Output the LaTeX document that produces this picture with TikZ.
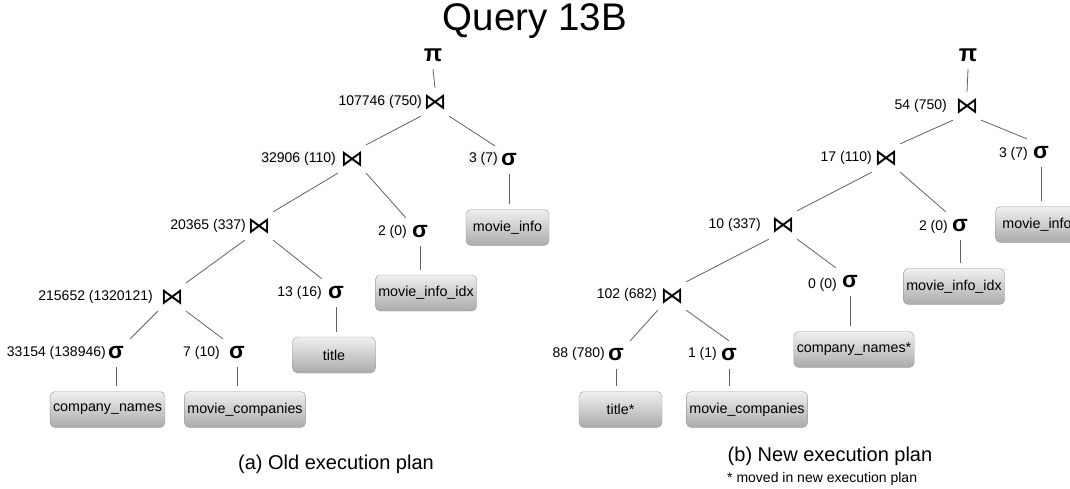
\documentclass[tikz,border=0pt]{standalone}
\usepackage{fontspec}
\setmainfont{Liberation Sans}
\newfontfamily\symfont{DejaVu Sans}
\tikzset{
  sym/.style={inner sep=0pt, minimum width=28pt, minimum height=28pt},
  sel/.style={sym, font=\fontsize{23}{23}\selectfont\bfseries},
  proj/.style={sym, font=\fontsize{24}{24}\selectfont\bfseries},
  bowtie/.style={sym, font=\symfont\fontsize{23}{23}\selectfont},
  card/.style={inner sep=1pt, font=\fontsize{14}{14}\selectfont, anchor=east},
  hl/.style={fill=black!4},
  rel/.style={draw=black!40, rounded corners=5pt, top color=black!6, bottom color=black!33,
    minimum width=83pt, minimum height=36pt, inner xsep=3pt, font=\fontsize{14.3}{14.3}\selectfont},
  link/.style={draw=black!62, line width=0.8pt},
  leaf/.style={link, shorten >=5pt}
}
\begin{document}
\begin{tikzpicture}[x=1pt,y=-1pt]
\useasboundingbox (0,0) rectangle (1070,488);
\clip (0,0) rectangle (1070,488);

\node[font=\fontsize{38.5}{38.5}\selectfont] (title) at (535,21) {Query 13B};

% ---------- old plan ----------
\node[proj] (pA) at (433,55) {π};
\node[bowtie] (jA1) at (435,102) {⋈};
\node[bowtie] (jA2) at (352,159) {⋈};
\node[bowtie] (jA3) at (259,226) {⋈};
\node[bowtie] (jA4) at (172,297) {⋈};
\node[sel] (sA3) at (509,160) {σ};
\node[sel] (sA2) at (420,232) {σ};
\node[sel] (sA13) at (336,293) {σ};
\node[sel] (sAcn) at (116,353) {σ};
\node[sel] (sAmc) at (237,353) {σ};

\node[card,hl] (cA1) at (423,102) {107746 (750)};
\node[card,hl] (cA2) at (337,159) {32906 (110)};
\node[card,hl] (cA3) at (499,159) {3 (7)};
\node[card] (cA4) at (247,226) {20365 (337)};
\node[card] (cA5) at (408,232) {2 (0)};
\node[card] (cA6) at (154,297) {215652 (1320121)};
\node[card] (cA7) at (323,293) {13 (16)};
\node[card] (cA8) at (107,353) {33154 (138946)};
\node[card] (cA9) at (221,353) {7 (10)};

\node[rel] (rAmi) at (507.5,227.5) {movie\_info};
\node[rel] (rAmix) at (426,293) {movie\_info\_idx};
\node[rel] (rAt) at (334,355) {title};
\node[rel] (rAcn) at (107.5,409.5) {company\_names};
\node[rel] (rAmc) at (245,409.5) {movie\_companies};

\draw[link] (pA.south) -- (jA1.north);
\draw[link] (jA1.south west) -- (jA2.north east);
\draw[link] (jA1.south east) -- (sA3.north west);
\draw[link] (jA2.south west) -- (jA3.north east);
\draw[link] (jA2.south east) -- (sA2.north west);
\draw[link] (jA3.south west) -- (jA4.north east);
\draw[link] (jA3.south east) -- (sA13.north west);
\draw[link] (jA4.south west) -- (sAcn.north east);
\draw[link] (jA4.south east) -- (sAmc.north west);
\draw[leaf] (sA3.south) -- (sA3.south |- rAmi.north);
\draw[leaf] (sA2.south) -- (sA2.south |- rAmix.north);
\draw[leaf] (sA13.south) -- (sA13.south |- rAt.north);
\draw[leaf] (sAcn.south) -- (sAcn.south |- rAcn.north);
\draw[leaf] (sAmc.south) -- (sAmc.south |- rAmc.north);

\node[font=\fontsize{20}{20}\selectfont] (capA) at (336,464) {(a) Old execution plan};

% ---------- new plan ----------
\node[proj] (pB) at (968,55) {π};
\node[bowtie] (jB1) at (967,106) {⋈};
\node[bowtie] (jB2) at (886,158) {⋈};
\node[bowtie] (jB3) at (783,225) {⋈};
\node[bowtie] (jB4) at (672,296) {⋈};
\node[sel] (sB3) at (1041,153) {σ};
\node[sel] (sB2) at (960,226) {σ};
\node[sel] (sB0) at (850,282) {σ};
\node[sel] (sBt) at (616,355) {σ};
\node[sel] (sBmc) at (729,355) {σ};

\node[card] (cB1) at (948,106) {54 (750)};
\node[card] (cB2) at (873,158) {17 (110)};
\node[card] (cB3) at (1029,154) {3 (7)};
\node[card] (cB4) at (762,225) {10 (337)};
\node[card] (cB5) at (949,227) {2 (0)};
\node[card] (cB6) at (658,295) {102 (682)};
\node[card] (cB7) at (838,285) {0 (0)};
\node[card] (cB8) at (606,354) {88 (780)};
\node[card] (cB9) at (718,354) {1 (1)};

\node[rel] (rBmi) at (1037,224.5) {movie\_info};
\node[rel] (rBmix) at (954,286.5) {movie\_info\_idx};
\node[rel] (rBcn) at (854,349.5) {company\_names*};
\node[rel] (rBt) at (620.5,409.5) {title*};
\node[rel] (rBmc) at (747,409.5) {movie\_companies};

\draw[link] (pB.south) -- (jB1.north);
\draw[link] (jB1.south west) -- (jB2.north east);
\draw[link] (jB1.south east) -- (sB3.north west);
\draw[link] (jB2.south west) -- (jB3.north east);
\draw[link] (jB2.south east) -- (sB2.north west);
\draw[link] (jB3.south west) -- (jB4.north east);
\draw[link] (jB3.south east) -- (sB0.north west);
\draw[link] (jB4.south west) -- (sBt.north east);
\draw[link] (jB4.south east) -- (sBmc.north);
\draw[leaf] (sB3.south) -- (sB3.south |- rBmi.north);
\draw[leaf] (sB2.south) -- (sB2.south |- rBmix.north);
\draw[leaf] (sB0.south) -- (sB0.south |- rBcn.north);
\draw[leaf] (sBt.south) -- (sBt.south |- rBt.north);
\draw[leaf] (sBmc.south) -- (sBmc.south |- rBmc.north);

\node[font=\fontsize{20}{20}\selectfont] (capB) at (830,456) {(b) New execution plan};
\node[font=\fontsize{14}{14}\selectfont, anchor=west, inner sep=0pt] (noteB) at (727,479) {* moved in new execution plan};
\end{tikzpicture}
\end{document}
